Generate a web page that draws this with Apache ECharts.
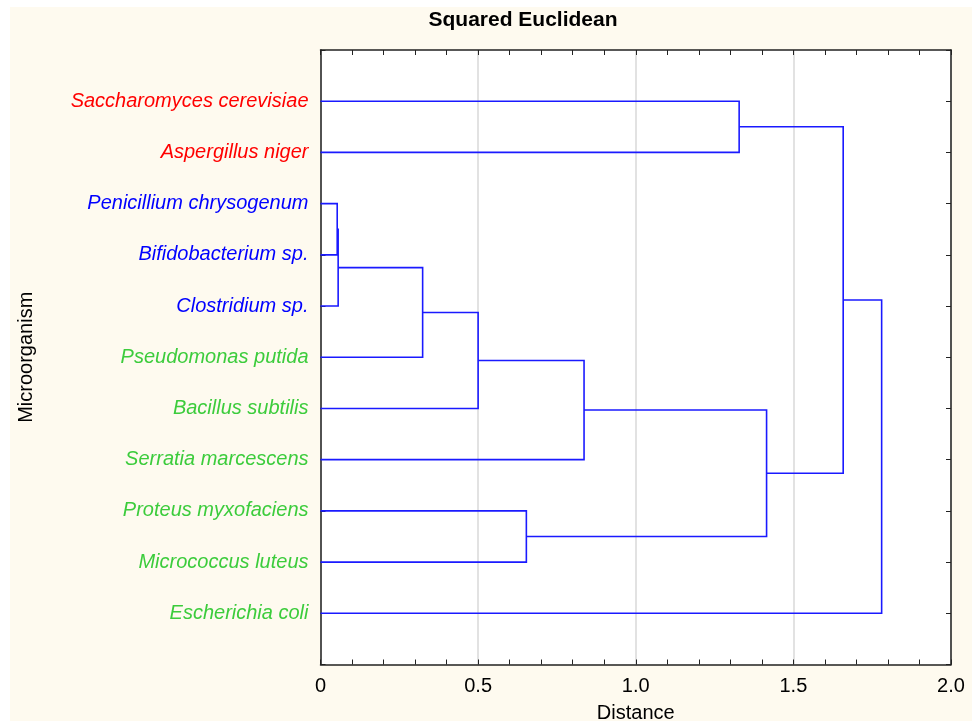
<!DOCTYPE html>
<html>
<head>
<meta charset="utf-8">
<script src="https://cdn.jsdelivr.net/npm/echarts@6/dist/echarts.min.js"></script>
<style>
  html, body { margin: 0; padding: 0; background: #fff; }
  #chart { width: 972px; height: 721px; }
</style>
</head>
<body>
<div id="chart"></div>
<script>
// leaves, top to bottom
var leafNames = [
  "Saccharomyces cerevisiae", "Aspergillus niger", "Penicillium chrysogenum",
  "Bifidobacterium sp.", "Clostridium sp.", "Pseudomonas putida",
  "Bacillus subtilis", "Serratia marcescens", "Proteus myxofaciens",
  "Micrococcus luteus", "Escherichia coli"
];
var leafGroup = ["r", "r", "b", "b", "b", "g", "g", "g", "g", "g", "g"];
// merges: node a, node b, distance (new node ids start at 11)
var mergeA = [2, 11, 12, 13, 14, 8, 15, 0, 18, 19];
var mergeB = [3, 4, 5, 6, 7, 9, 16, 1, 17, 10];
var mergeDist = [0.053, 0.056, 0.324, 0.500, 0.836, 0.653, 1.415, 1.328, 1.658, 1.780];

// node positions in data space
var nodeX = [], nodeY = [];
leafNames.forEach(function (n, i) { nodeX.push(0); nodeY.push(i + 1); });
var links = [];
for (var k = 0; k < mergeDist.length; k++) {
  var a = mergeA[k], b = mergeB[k], d = mergeDist[k];
  links.push({ coords: [[nodeX[a], nodeY[a]], [d, nodeY[a]], [d, nodeY[b]], [nodeX[b], nodeY[b]]] });
  nodeX.push(d);
  nodeY.push((nodeY[a] + nodeY[b]) / 2);
}

var chart = echarts.init(document.getElementById("chart"));
var font = "Liberation Sans, Arial, sans-serif";
var axisCol = "#222";
var fs = 20;

function frameAxis() {
  return {
    axisLine: { show: true, onZero: false, lineStyle: { color: axisCol, width: 1.5 } },
    axisTick: { show: true, inside: true, length: 5, lineStyle: { color: axisCol } }
  };
}

var option = {
  backgroundColor: "#fff",
  animation: false,
  graphic: [{
    type: "rect", left: 10, top: 7, z: -10,
    shape: { width: 962, height: 714 },
    style: { fill: "#fefaef" }
  }],
  title: {
    text: "Squared Euclidean", left: 518, top: 5, textAlign: "center",
    textStyle: { fontFamily: font, fontSize: 21, fontWeight: "bold", color: "#000" }
  },
  grid: {
    left: 320.5, right: 21, top: 50, bottom: 56.5,
    containLabel: false, outerBoundsMode: "none",
    show: true, backgroundColor: "#fff", borderWidth: 0
  },
  xAxis: [{
    type: "value", position: "bottom", min: 0, max: 2, interval: 0.5,
    name: "Distance", nameLocation: "middle", nameGap: 39,
    nameTextStyle: { fontFamily: font, fontSize: fs, color: "#000" },
    axisLine: frameAxis().axisLine,
    axisTick: frameAxis().axisTick,
    minorTick: { show: true, splitNumber: 5, length: 5, lineStyle: { color: axisCol } },
    axisLabel: {
      margin: 12, fontFamily: font, fontSize: fs, color: "#000",
      formatter: function (v) { return v === 0 ? "0" : v.toFixed(1); }
    },
    splitLine: { show: true, lineStyle: { color: "#d9d9d9", width: 1.5 } }
  }, {
    type: "value", position: "top", min: 0, max: 2, interval: 0.5,
    axisLine: frameAxis().axisLine,
    axisTick: frameAxis().axisTick,
    minorTick: { show: true, splitNumber: 5, length: 5, lineStyle: { color: axisCol } },
    axisLabel: { show: false },
    splitLine: { show: false }
  }],
  yAxis: [{
    type: "value", position: "left", inverse: true, min: 0, max: 12, interval: 1,
    name: "Microorganism", nameLocation: "middle", nameGap: 284, nameRotate: 90,
    nameTextStyle: { fontFamily: font, fontSize: fs, color: "#000" },
    axisLine: frameAxis().axisLine,
    axisTick: frameAxis().axisTick,
    axisLabel: {
      margin: 12, showMinLabel: true, showMaxLabel: true,
      formatter: function (v) {
        if (v < 1 || v > leafNames.length) return "";
        return "{" + leafGroup[v - 1] + "|" + leafNames[v - 1] + "}";
      },
      rich: {
        r: { color: "#ff0000", fontFamily: font, fontSize: fs, fontStyle: "italic" },
        b: { color: "#0000ff", fontFamily: font, fontSize: fs, fontStyle: "italic" },
        g: { color: "#3ccc3c", fontFamily: font, fontSize: fs, fontStyle: "italic" }
      }
    },
    splitLine: { show: false }
  }, {
    type: "value", position: "right", inverse: true, min: 0, max: 12, interval: 1,
    axisLine: frameAxis().axisLine,
    axisTick: frameAxis().axisTick,
    axisLabel: { show: false },
    splitLine: { show: false }
  }],
  series: [{
    type: "lines",
    coordinateSystem: "cartesian2d",
    xAxisIndex: 0, yAxisIndex: 0,
    polyline: true,
    lineStyle: { color: "#1a1aff", width: 1.6, opacity: 1 },
    data: links,
    z: 5
  }]
};
chart.setOption(option);
</script>
</body>
</html>
